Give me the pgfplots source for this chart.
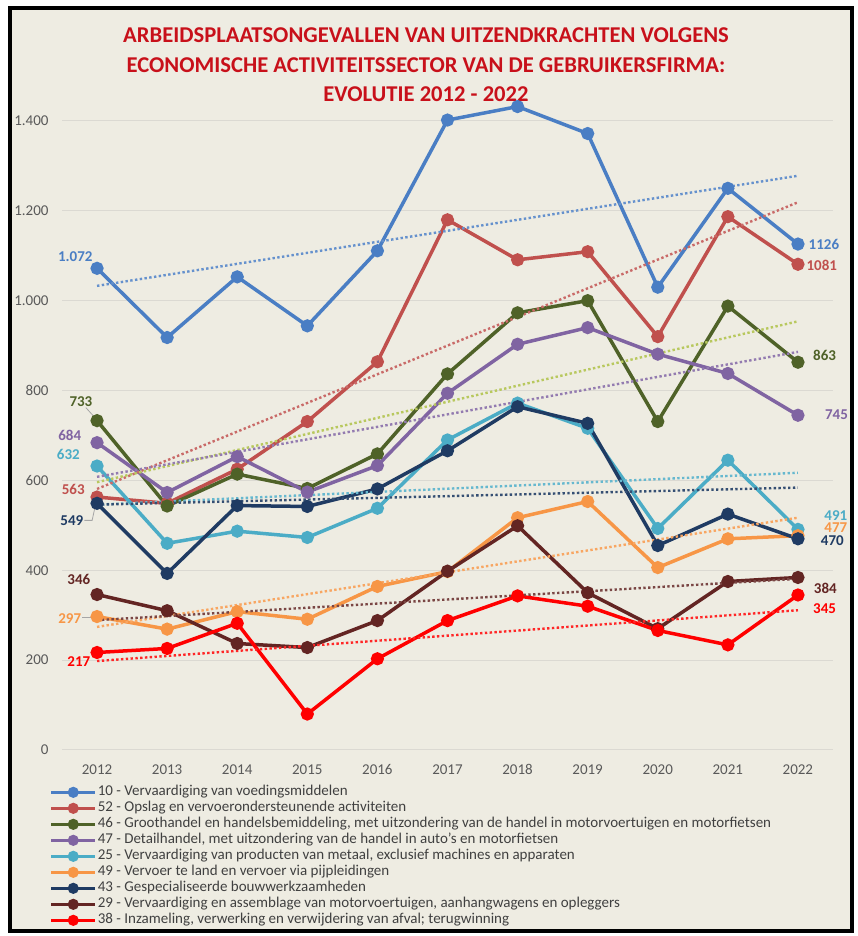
\documentclass[border=0pt]{standalone}
\usepackage{fontspec}
\setmainfont{Carlito}
\usepackage{pgfplots}
\pgfplotsset{compat=1.18}
\definecolor{bgc}{HTML}{EEECE2}
\definecolor{gridc}{HTML}{DBD9D2}
\definecolor{ticc}{HTML}{595959}
\definecolor{titc}{HTML}{C8101A}
\definecolor{cA}{HTML}{4A7EC4}
\definecolor{cB}{HTML}{C0504D}
\definecolor{cC}{HTML}{4F6228}
\definecolor{cCt}{HTML}{B8C85E}
\definecolor{cD}{HTML}{8064A2}
\definecolor{cE}{HTML}{4BACC6}
\definecolor{cF}{HTML}{F79646}
\definecolor{cG}{HTML}{1F3B63}
\definecolor{cH}{HTML}{632523}
\definecolor{cI}{HTML}{FF0000}
\begin{document}
\begin{tikzpicture}
\useasboundingbox (0,0) rectangle (857pt,936pt);
\fill[white] (0,0) rectangle (857pt,936pt);
\fill[bgc] (9.5pt,4.5pt) rectangle (852pt,927.5pt);
\draw[black,line width=4pt] (9.5pt,4.5pt) rectangle (852pt,927.5pt);
\node[align=center,text=titc,font=\fontsize{22.6}{29.5}\selectfont\bfseries] at (426pt,871pt)
{ARBEIDSPLAATSONGEVALLEN VAN UITZENDKRACHTEN VOLGENS\\ECONOMISCHE ACTIVITEITSSECTOR VAN DE GEBRUIKERSFIRMA:\\EVOLUTIE 2012 - 2022};
\begin{axis}[
  at={(62pt,186pt)}, anchor=south west,
  scale only axis, width=771pt, height=656pt,
  xmin=2011.5, xmax=2022.5, ymin=0, ymax=1460,
  xtick={2012,...,2022},
  xticklabels={2012,2013,2014,2015,2016,2017,2018,2019,2020,2021,2022},
  ytick={0,200,400,600,800,1000,1200,1400},
  yticklabels={0,200,400,600,800,1.000,1.200,1.400},
  major tick length=0pt,
  axis line style={draw=none},
  ymajorgrids, grid style={gridc,line width=1pt},
  tick label style={text=ticc,font=\fontsize{15}{18}\selectfont},
  xticklabel style={yshift=-11pt},
  yticklabel style={xshift=-10pt},
  /pgf/number format/assume math mode=true,
  clip=false,
  every axis plot/.append style={line width=3.5pt, mark=*, mark size=4.8pt, mark options={solid}},
  legend image code/.code={\draw[mark repeat=2,mark phase=2,#1,line width=3pt,mark size=4pt] plot coordinates {(0pt,0pt) (22pt,0pt) (44pt,0pt)};},
  legend cell align=left,
  legend style={at={(-0.02,-0.049)}, anchor=north west, draw=none, fill=none,
    font=\fontsize{15}{16}\selectfont, text=black!75, row sep=0pt,
    nodes={inner sep=1pt, text height=10pt, text depth=4pt}},
  trend/.style={line width=2.4pt, dash pattern=on 2.4pt off 2.4pt, mark=none, forget plot},
]
% main series
\addplot[color=cA] coordinates {(2012,1072)(2013,918)(2014,1053)(2015,944)(2016,1111)(2017,1402)(2018,1432)(2019,1372)(2020,1030)(2021,1250)(2022,1126)};
\addlegendentry{10 - Vervaardiging van voedingsmiddelen}
\addplot[color=cB] coordinates {(2012,563)(2013,549)(2014,625)(2015,731)(2016,864)(2017,1180)(2018,1091)(2019,1109)(2020,920)(2021,1187)(2022,1081)};
\addlegendentry{52 - Opslag en vervoerondersteunende activiteiten}
\addplot[color=cC] coordinates {(2012,733)(2013,543)(2014,614)(2015,582)(2016,659)(2017,837)(2018,973)(2019,1000)(2020,731)(2021,988)(2022,863)};
\addlegendentry{46 - Groothandel en handelsbemiddeling, met uitzondering van de handel in motorvoertuigen en motorfietsen}
\addplot[color=cD] coordinates {(2012,684)(2013,573)(2014,653)(2015,574)(2016,633)(2017,794)(2018,903)(2019,940)(2020,881)(2021,838)(2022,745)};
\addlegendentry{47 - Detailhandel, met uitzondering van de handel in auto's en motorfietsen}
\addplot[color=cE] coordinates {(2012,632)(2013,460)(2014,487)(2015,473)(2016,538)(2017,690)(2018,772)(2019,716)(2020,493)(2021,645)(2022,491)};
\addlegendentry{25 - Vervaardiging van producten van metaal, exclusief machines en apparaten}
\addplot[color=cF] coordinates {(2012,297)(2013,269)(2014,308)(2015,291)(2016,364)(2017,397)(2018,517)(2019,553)(2020,406)(2021,470)(2022,477)};
\addlegendentry{49 - Vervoer te land en vervoer via pijpleidingen}
\addplot[color=cG] coordinates {(2012,549)(2013,393)(2014,544)(2015,542)(2016,581)(2017,666)(2018,764)(2019,727)(2020,455)(2021,525)(2022,470)};
\addlegendentry{43 - Gespecialiseerde bouwwerkzaamheden}
\addplot[color=cH] coordinates {(2012,346)(2013,310)(2014,237)(2015,228)(2016,288)(2017,398)(2018,499)(2019,350)(2020,270)(2021,375)(2022,384)};
\addlegendentry{29 - Vervaardiging en assemblage van motorvoertuigen, aanhangwagens en opleggers}
\addplot[color=cI] coordinates {(2012,217)(2013,226)(2014,282)(2015,80)(2016,203)(2017,288)(2018,343)(2019,320)(2020,266)(2021,234)(2022,345)};
\addlegendentry{38 - Inzameling, verwerking en verwijdering van afval; terugwinning}
% trend lines
\addplot[trend,color=cA!85] coordinates {(2012,1033)(2022,1278)};
\addplot[trend,color=cB!85] coordinates {(2012,581)(2022,1219)};
\addplot[trend,color=cCt] coordinates {(2012,596)(2022,954)};
\addplot[trend,color=cD!85] coordinates {(2012,608)(2022,886)};
\addplot[trend,color=cE!85] coordinates {(2012,546)(2022,617)};
\addplot[trend,color=cF!85] coordinates {(2012,274)(2022,517)};
\addplot[trend,color=cG!90] coordinates {(2012,546)(2022,584)};
\addplot[trend,color=cH!85] coordinates {(2012,289)(2022,381)};
\addplot[trend,color=cI!85] coordinates {(2012,198)(2022,311)};
% leader lines
\draw[gray!70,line width=0.8pt] (axis cs:2011.84,762) -- (axis cs:2011.98,738);
\draw[gray!70,line width=0.8pt] (axis cs:2011.82,511) -- (axis cs:2011.93,511) -- (axis cs:2011.97,540);
\draw[gray!70,line width=0.8pt] (axis cs:2011.79,296) -- (axis cs:2011.95,296);
% data labels
\begin{scope}[every node/.style={font=\fontsize{15}{18}\selectfont\bfseries}]
\node[text=cA] at (axis cs:2011.69,1097) {1.072};
\node[text=cC] at (axis cs:2011.77,775) {733};
\node[text=cD] at (axis cs:2011.61,700) {684};
\node[text=cE] at (axis cs:2011.59,657) {632};
\node[text=cB] at (axis cs:2011.66,581) {563};
\node[text=cG] at (axis cs:2011.64,510) {549};
\node[text=cH] at (axis cs:2011.74,380) {346};
\node[text=cF] at (axis cs:2011.61,293) {297};
\node[text=cI] at (axis cs:2011.74,197) {217};
\node[text=cA] at (axis cs:2022.37,1126) {1126};
\node[text=cB] at (axis cs:2022.34,1079) {1081};
\node[text=cC] at (axis cs:2022.38,879) {863};
\node[text=cD] at (axis cs:2022.55,746) {745};
\node[text=cE] at (axis cs:2022.54,521) {491};
\node[text=cF] at (axis cs:2022.54,496) {477};
\node[text=cG] at (axis cs:2022.49,467) {470};
\node[text=cH] at (axis cs:2022.39,359) {384};
\node[text=cI] at (axis cs:2022.38,315) {345};
\end{scope}
\end{axis}
\end{tikzpicture}
\end{document}
